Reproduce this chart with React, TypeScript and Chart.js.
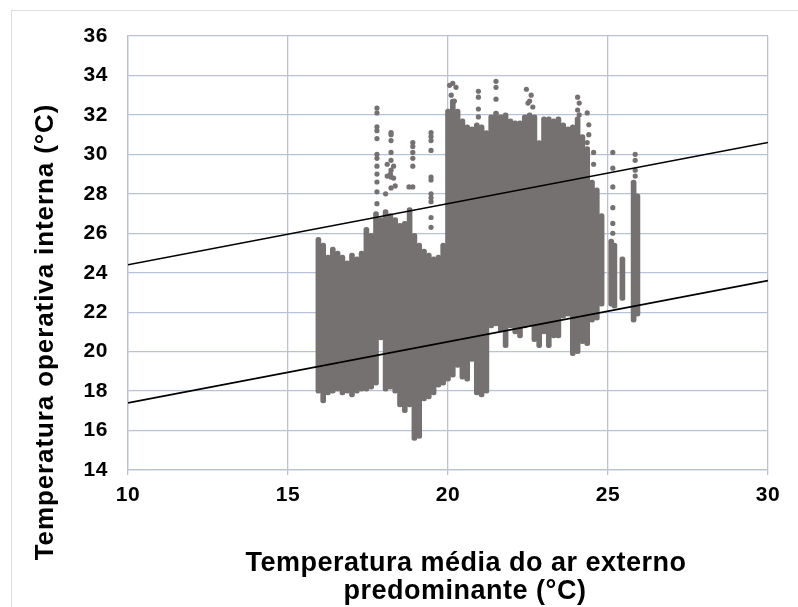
import React, { useEffect, useRef } from "react";
import { Chart, registerables } from "chart.js";
Chart.register(...registerables);

// Dense vertical strips of observations (x = outdoor prevailing mean temp, low/high = indoor operative temp range)
const colX = [15.95, 16.1, 16.25, 16.4, 16.55, 16.7, 16.85, 17.0, 17.15, 17.3, 17.45, 17.6, 17.75, 17.9, 18.05, 18.2, 18.35, 18.5, 18.65, 18.8, 18.95, 19.1, 19.25, 19.4, 19.55, 19.7, 19.85, 20.0, 20.15, 20.3, 20.45, 20.6, 20.75, 20.9, 21.05, 21.2, 21.35, 21.5, 21.65, 21.8, 21.95, 22.1, 22.25, 22.4, 22.55, 22.7, 22.85, 23.0, 23.15, 23.3, 23.45, 23.6, 23.75, 23.9, 24.05, 24.2, 24.35, 24.5, 24.65, 24.8, 25.1, 25.2, 25.45, 25.8, 25.92];
const colLow = [17.9, 17.4, 17.8, 17.9, 18.0, 17.8, 17.9, 17.7, 17.9, 18.0, 18.0, 18.1, 18.3, 20.6, 18.0, 18.1, 17.9, 17.2, 16.9, 17.2, 15.5, 15.6, 17.5, 17.6, 17.8, 18.2, 18.3, 18.5, 18.7, 19.2, 18.6, 18.5, 19.5, 17.8, 17.7, 17.9, 21.2, 21.3, 21.0, 20.2, 21.2, 20.9, 20.7, 21.2, 21.3, 20.5, 20.2, 20.9, 20.2, 20.7, 20.7, 21.7, 21.8, 19.8, 19.9, 20.4, 20.3, 21.5, 21.6, 22.3, 22.3, 22.2, 22.6, 21.5, 21.8];
const colHigh = [25.8, 25.5, 24.9, 25.3, 25.1, 24.9, 24.6, 25.0, 24.8, 25.1, 26.3, 26.0, 27.1, 26.8, 27.2, 27.0, 26.8, 26.5, 26.6, 27.3, 26.0, 25.5, 25.2, 25.0, 24.8, 24.9, 25.5, 32.3, 32.8, 32.3, 31.8, 31.5, 31.4, 31.6, 31.5, 31.2, 32.0, 32.2, 32.0, 32.1, 31.8, 31.7, 31.7, 32.0, 32.1, 32.0, 30.7, 31.9, 31.9, 31.8, 31.9, 31.6, 31.4, 31.5, 31.9, 31.0, 30.4, 28.7, 28.3, 27.0, 25.7, 25.5, 24.8, 28.7, 28.0];

// Sparse individual observations outside the dense strips
const dotX = [17.78, 17.78, 17.78, 17.78, 17.78, 17.78, 17.78, 17.78, 17.78, 17.78, 17.78, 17.78,
  18.22, 18.22, 18.22, 18.22, 18.22, 18.22, 18.22, 18.22, 18.1, 18.3, 18.1, 18.3, 18.2, 18.35, 18.05,
  18.78, 18.9, 18.9, 18.9, 18.9, 18.9, 18.9,
  19.47, 19.47, 19.47, 19.47, 19.47, 19.47, 19.47, 19.47, 19.47, 19.47, 19.47,
  20.05, 20.15, 20.25, 20.1, 20.2,
  20.95, 20.95, 20.95, 20.95,
  21.5, 21.5, 21.5,
  22.45, 22.6, 22.55, 22.65, 22.5,
  24.05, 24.1, 24.05, 24.1,
  24.35, 24.4, 24.4, 24.35, 24.55, 24.55,
  25.15, 25.15, 25.15, 25.15, 25.15, 25.15,
  25.85, 25.85, 25.85, 25.85];
const dotY = [32.35, 32.1, 31.4, 31.2, 30.8, 30.0, 29.8, 29.4, 29.0, 28.6, 28.1, 27.5,
  31.1, 31.0, 30.7, 30.1, 29.7, 29.2, 28.85, 28.3, 29.5, 29.4, 28.9, 28.8, 29.0, 28.4, 28.0,
  28.35, 30.6, 30.4, 30.1, 29.8, 29.4, 28.35,
  31.1, 30.9, 30.7, 30.2, 28.85, 28.7, 28.0, 27.8, 27.6, 26.8, 26.3,
  33.5, 33.6, 33.4, 33.0, 32.7,
  33.2, 32.9, 32.3, 31.9,
  33.7, 33.4, 32.8,
  33.3, 33.0, 32.7, 32.4, 32.6,
  32.9, 32.6, 32.25, 32.0,
  32.1, 31.5, 31.0, 30.6, 29.5, 30.1,
  30.1, 29.3, 28.35, 27.3, 26.5, 26.0,
  30.0, 29.7, 29.2, 28.9];

// Adaptive comfort limits (upper and lower)
const limitX = [10, 30];
const upperLimitY = [24.4, 30.6];
const lowerLimitY = [17.4, 23.6];

const xTitleLines = ["Temperatura média do ar externo", "predominante (°C)"];
const yTitle = "Temperatura operativa interna (°C)";

const GRAY = "#767171";
const GRID = "#b7c2d7";
const FONT = "'Liberation Sans', Arial, sans-serif";

export default function App() {
  const ref = useRef<HTMLCanvasElement | null>(null);

  useEffect(() => {
    if (!ref.current) return;
    const spacingPlugin = {
      id: "spacing",
      beforeDraw(chart: any) {
        chart.ctx.letterSpacing = "0.6px";
      },
    };
    const titlePlugin = {
      id: "titles",
      afterDraw(chart: any) {
        const ctx = chart.ctx;
        ctx.save();
        ctx.fillStyle = "#000";
        ctx.textAlign = "center";
        ctx.textBaseline = "alphabetic";
        ctx.font = `bold 27px ${FONT}`;
        ctx.letterSpacing = "0.5px";
        ctx.fillText(xTitleLines[0], 466, 571);
        ctx.fillText(xTitleLines[1], 465, 599);
        ctx.translate(53, 332);
        ctx.rotate(-Math.PI / 2);
        ctx.font = `bold 26px ${FONT}`;
        ctx.letterSpacing = "0.9px";
        ctx.fillText(yTitle, 0, 0);
        ctx.restore();
        ctx.letterSpacing = "0px";
      },
    };
    const tickFont = { family: FONT, size: 21, weight: "bold" as const };
    const chart = new Chart(ref.current, {
      type: "scatter",
      data: {
        datasets: [
          {
            type: "line",
            data: limitX.map((x, i) => ({ x, y: upperLimitY[i] })),
            borderColor: "#000",
            borderWidth: 1.6,
            pointRadius: 0,
            fill: false,
            tension: 0,
            order: 1,
          } as any,
          {
            type: "line",
            data: limitX.map((x, i) => ({ x, y: lowerLimitY[i] })),
            borderColor: "#000",
            borderWidth: 1.6,
            pointRadius: 0,
            fill: false,
            tension: 0,
            order: 1,
          } as any,
          {
            type: "scatter",
            data: dotX.map((x, i) => ({ x, y: dotY[i] })),
            pointRadius: 2.6,
            pointBackgroundColor: GRAY,
            pointBorderWidth: 0,
            backgroundColor: GRAY,
            borderColor: GRAY,
            order: 2,
          } as any,
          {
            type: "bar",
            data: colX.map((x, i) => ({ x, y: [colLow[i], colHigh[i]] })),
            backgroundColor: GRAY,
            barThickness: 5,
            borderRadius: 2.5,
            borderSkipped: false,
            grouped: false,
            order: 3,
          } as any,
        ],
      },
      options: {
        animation: false,
        responsive: false,
        layout: { padding: { top: 36, right: 30, left: 0, bottom: 0 } },
        plugins: { legend: { display: false }, tooltip: { enabled: false } },
        scales: {
          x: {
            type: "linear",
            min: 10,
            max: 30,
            offset: false,
            ticks: { stepSize: 5, font: tickFont, color: "#000", padding: 8, maxRotation: 0 },
            grid: { color: GRID, lineWidth: 1.3, tickLength: 5, drawTicks: true, offset: false },
            border: { display: true, color: GRID, width: 1.3 },
            afterFit(s: any) {
              s.height = 137;
            },
          },
          y: {
            type: "linear",
            min: 14,
            max: 36,
            ticks: { stepSize: 2, font: tickFont, color: "#000", padding: 20 },
            grid: { color: GRID, lineWidth: 1.3, drawTicks: false },
            border: { display: true, color: GRID, width: 1.3 },
            afterFit(s: any) {
              s.width = 128;
            },
          },
        },
      } as any,
      plugins: [spacingPlugin, titlePlugin],
    });
    return () => chart.destroy();
  }, []);

  return (
    <div style={{ position: "fixed", left: 0, top: 0, width: 798, height: 607, overflow: "hidden", background: "#fff" }}>
      <div
        style={{
          position: "absolute",
          left: 11,
          top: 10,
          width: 820,
          height: 640,
          border: "1px solid #d9dee5",
        }}
      />
      <canvas ref={ref} width={798} height={607} style={{ position: "absolute", left: 0, top: 0, display: "block" }} />
    </div>
  );
}
